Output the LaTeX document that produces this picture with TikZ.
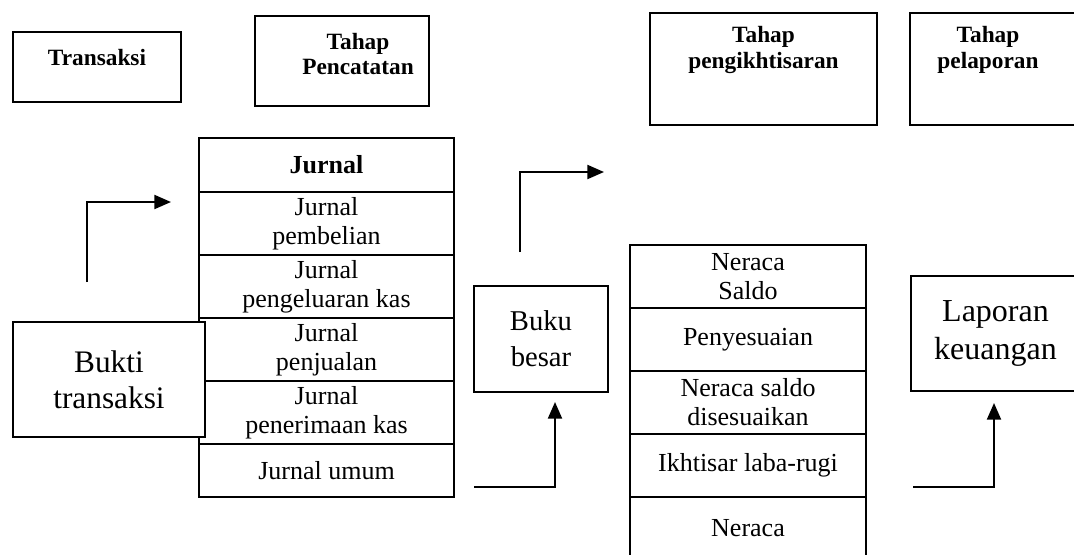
\documentclass[tikz,border=0pt]{standalone}
\usepackage{fontspec}
\setmainfont{Liberation Serif}
\usetikzlibrary{arrows.meta}

\begin{document}
\begin{tikzpicture}[x=0.75pt, y=-0.75pt,
    hdrbox/.style={draw, line width=1.3pt, inner sep=0pt},
    hdrtxt/.style={font=\fontsize{17.5}{19}\selectfont\bfseries, align=center, inner sep=0pt},
    jcell/.style={draw, line width=1.5pt, minimum width=191.25pt, minimum height=47.25pt,
                  inner sep=0pt, align=center, font=\fontsize{19.5}{21.75}\selectfont},
    ncell/.style={jcell, minimum width=177pt},
    bigbox/.style={draw, fill=white, line width=1.4pt, inner sep=0pt, align=center},
    flow/.style={line width=1.6pt, -{Triangle[length=12.5pt, width=10.5pt]}}]

    \useasboundingbox (0,0) rectangle (1074,554);
    \clip (0,0) rectangle (1074,554);

    % stage headers
    \node[hdrbox, minimum width=126pt, minimum height=52.5pt] (transaksi) at (97,67) {};
    \node[hdrtxt] (transaksi-t) at (97,58) {Transaksi};
    \node[hdrbox, minimum width=130.5pt, minimum height=67.5pt] (catat) at (342,61) {};
    \node[hdrtxt] (catat-t) at (358,54) {Tahap\\Pencatatan};
    \node[hdrbox, minimum width=170.25pt, minimum height=84pt] (ikhtisar) at (763.5,69) {};
    \node[hdrtxt] (ikhtisar-t) at (763.5,50) {Tahap\\pengikhtisaran};
    \node[hdrbox, minimum width=127.5pt, minimum height=84pt] (lapor) at (995,69) {};
    \node[hdrtxt] (lapor-t) at (988,50) {Tahap\\pelaporan};

    % --- jurnal stack ----------------------------------------------------
    \node[jcell, minimum height=40.5pt] (jurnal) at (326.5,165) {\textbf{Jurnal}};
    \node[jcell] (jbeli)  at (326.5,223.5) {Jurnal\\pembelian};
    \node[jcell] (jkeluar) at (326.5,286.5) {Jurnal\\pengeluaran kas};
    \node[jcell] (jjual)  at (326.5,349.5) {Jurnal\\penjualan};
    \node[jcell] (jterima) at (326.5,412.5) {Jurnal\\penerimaan kas};
    \node[jcell, minimum height=39.75pt] (jumum) at (326.5,470.5) {Jurnal umum};

    % --- neraca stack ----------------------------------------------------
    \node[ncell] (nsaldo) at (748,276.5) {Neraca\\Saldo};
    \node[ncell] (sesuai) at (748,339.5) {Penyesuaian};
    \node[ncell] (nsesuai) at (748,402.5) {Neraca saldo\\disesuaikan};
    \node[ncell] (ilr)    at (748,465.5) {Ikhtisar laba-rugi};
    \node[ncell] (neraca) at (748,528.5) {Neraca};

    % big boxes
    \node[bigbox, minimum width=144pt, minimum height=86.25pt,
          font=\fontsize{23.5}{27}\selectfont] (bukti) at (109,379.5) {Bukti\\transaksi};
    \node[bigbox, minimum width=100.5pt, minimum height=79.5pt,
          font=\fontsize{21.5}{27}\selectfont] (buku) at (541,339) {Buku\\besar};
    \node[bigbox, minimum width=126.75pt, minimum height=86.25pt,
          font=\fontsize{24}{28.5}\selectfont] (laporan) at (995.5,333.5) {Laporan\\keuangan};

    % arrows
    \coordinate (up1) at (87,282);
    \coordinate (to1) at (171,202);
    \coordinate (up2) at (520,252);
    \coordinate (to2) at (604,172);
    \coordinate (from3) at (474,487);
    \coordinate (to3) at (555,402);
    \coordinate (from4) at (913,487);
    \coordinate (to4) at (994,403);
    \draw[flow] (up1) |- (to1);
    \draw[flow] (up2) |- (to2);
    \draw[flow] (from3) -| (to3);
    \draw[flow] (from4) -| (to4);
\end{tikzpicture}
\end{document}
